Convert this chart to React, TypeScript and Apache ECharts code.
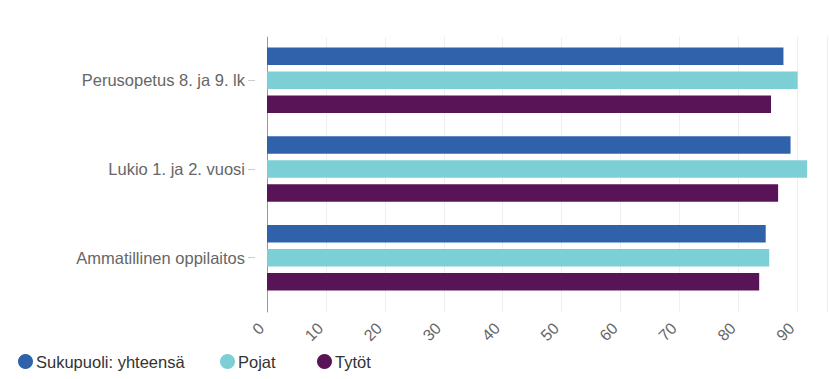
import React, { useEffect, useRef } from "react";
import * as echarts from "echarts";

const categories = ["Perusopetus 8. ja 9. lk", "Lukio 1. ja 2. vuosi", "Ammatillinen oppilaitos"];
const seriesNames = ["Sukupuoli: yhteensä", "Pojat", "Tytöt"];
const yhteensa = [87.3, 88.5, 84.3];
const pojat = [89.7, 91.3, 84.9];
const tytot = [85.2, 86.4, 83.2];
const colors = ["#2f62ab", "#7dcfd6", "#581456"];

export default function App() {
  const ref = useRef<HTMLDivElement>(null);
  useEffect(() => {
    if (!ref.current) return;
    const chart = echarts.init(ref.current, null, { renderer: "svg" });
    const font = "'Liberation Sans', Arial, sans-serif";
    const values = [yhteensa, pojat, tytot];
    const legendLeft = [18, 220, 317];
    chart.setOption({
      animation: false,
      textStyle: { fontFamily: font },
      grid: [
        { left: 267, right: 0, top: 36, height: 266, containLabel: false },
        { left: 267, right: 0, top: 37, height: 275, containLabel: false },
      ],
      legend: seriesNames.map((n, i) => ({
        data: [n],
        left: legendLeft[i],
        top: 353,
        icon: "circle",
        itemWidth: 15,
        itemHeight: 15,
        itemGap: 0,
        textStyle: { fontSize: 16.5, color: "#333", fontFamily: font, padding: [0, 0, 0, -2] },
        padding: 0,
      })),
      xAxis: [
        { gridIndex: 0, type: "value", min: 0, max: 95, show: false },
        {
          gridIndex: 1,
          type: "value",
          min: 0,
          max: 95,
          interval: 10,
          axisLine: { show: false },
          axisTick: { show: false },
          splitLine: { show: true, lineStyle: { color: "#efefef", width: 1 } },
          axisLabel: {
            rotate: 45,
            margin: 8,
            padding: [0, 8, 0, 0],
            color: "#666",
            fontSize: 16,
            fontFamily: font,
            formatter: (v: number) => (v % 10 === 0 ? String(v) : ""),
          },
        },
      ],
      yAxis: [
        {
          gridIndex: 0,
          type: "category",
          inverse: true,
          data: categories,
          axisLine: { show: false },
          axisTick: { show: false },
          axisLabel: { margin: 22, color: "#666", fontSize: 16.5, fontFamily: font, padding: [4, 0, 0, 0] },
        },
        {
          gridIndex: 1,
          type: "category",
          inverse: true,
          data: categories,
          axisLine: { show: true, lineStyle: { color: "#999", width: 1 } },
          axisTick: { show: false },
          axisLabel: { show: false },
        },
        {
          gridIndex: 0,
          type: "category",
          inverse: true,
          data: categories,
          offset: 12,
          position: "left",
          axisLine: { show: false },
          axisTick: { show: true, alignWithLabel: true, length: 7, lineStyle: { color: "#ccc" } },
          axisLabel: { show: false },
        },
      ],
      series: seriesNames.map((n, i) => ({
        name: n,
        type: "bar",
        xAxisIndex: 0,
        yAxisIndex: 0,
        data: values[i],
        barWidth: 17.5,
        barGap: "37%",
        itemStyle: { color: colors[i] },
      })),
    });
    return () => chart.dispose();
  }, []);
  return <div ref={ref} style={{ width: 829, height: 379, position: "absolute", left: 0, top: 0 }} />;
}
